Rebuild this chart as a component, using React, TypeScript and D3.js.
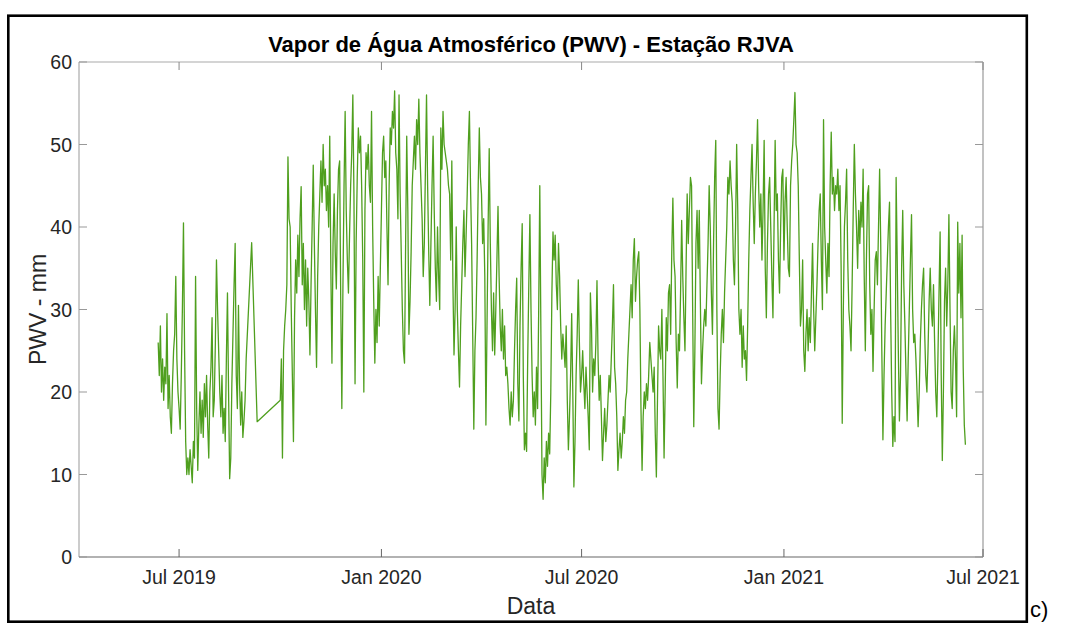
import React from "react";
import * as d3 from "d3";

// ---- data ----
const titleText = "Vapor de Água Atmosférico (PWV) - Estação RJVA";
const yLabel = "PWV - mm";
const xLabel = "Data";
const panelTag = "c)";

const xTickDates = ["2019-07-01", "2020-01-01", "2020-07-01", "2021-01-01", "2021-07-01"];
const yTickValues = [0, 10, 20, 30, 40, 50, 60];

// daily PWV (mm) from 2019-06-12
const segAStart = "2019-06-12";
const segAValues = [
  26, 22, 28, 20, 24, 19, 23, 21, 29.5, 18,
  22, 17, 15, 21, 25, 27, 34, 24, 20, 18,
  15.5, 22, 30, 40.5, 25, 14, 10, 12, 10, 13,
  11, 9, 14, 12, 34, 18, 10.5, 16, 20, 15,
  19, 14.5, 21, 17, 22, 16, 12, 20, 23, 29,
  17, 19, 26, 36, 30, 25, 20, 17, 22, 15,
  18, 14, 24, 32, 20, 9.5, 12, 21, 27, 33,
  38, 22, 18, 30.5, 21, 16, 20, 14.5, 16.5, 19,
  24,
];

// isolated observations inside the data gap
const gapDates = ["2019-09-05", "2019-09-10"];
const gapValues = [38.1, 16.4];

// daily PWV (mm) from 2019-10-01
const segBStart = "2019-10-01";
const segBValues = [
  19, 24, 12, 25, 28, 30, 33, 48.5, 41, 40,
  30, 22, 14, 29, 36, 32, 39, 34, 41, 44.9,
  33, 38, 30, 36, 28, 35, 31, 24.5, 33, 40,
  47.5, 38, 30, 23, 34, 40, 44, 48, 43, 50,
  45, 47, 42, 45, 40, 51, 35, 23.5, 38, 44,
  37, 32.5, 42, 47, 48, 31, 18, 33, 45, 54,
  42, 36, 32, 39, 45, 49, 56, 44, 21, 38,
  46, 52, 49, 51, 45, 36, 20, 42, 49, 47,
  50, 45, 43, 54, 40, 31, 23.5, 30, 26, 34,
  28, 35, 42, 49, 51, 46, 48, 40, 33, 45,
  52, 50, 54, 52, 56.5, 49, 47, 41, 56, 44,
  37, 30, 25, 23.5, 38, 51, 42, 27, 31, 37,
  45, 48, 51, 47, 53, 50, 55.5, 49, 45, 41,
  34, 38, 47, 56, 45, 37, 30.5, 38, 45, 51,
  42, 35, 31, 40, 34, 30, 52, 47, 54, 50,
  49, 48, 47, 45, 44, 36, 48, 33, 24.5, 30,
  40, 30, 25, 20.6, 28, 33, 38, 42, 34, 39,
  44, 50, 54, 45, 38, 27, 15.5, 25, 29, 36,
  45, 52, 46, 44, 38, 41, 34, 16, 28, 40,
  49.5, 38, 30, 25, 32, 24.5, 30, 36, 42.5, 34,
  28, 25, 30, 24, 28, 22, 23, 21, 18, 16,
  20, 17, 19, 25, 30, 33.8, 21, 16.5, 28, 35,
  40.4, 22, 13, 15, 12.8, 24, 33, 41.5, 30, 22,
  17, 20, 16, 23, 18, 30, 45, 27, 10, 7,
  12, 9, 14, 11, 15, 12.5, 20, 32, 39.4, 36,
  39, 33, 30, 38, 34, 28, 24, 27, 25, 23,
  28, 19, 13, 17, 22, 29.5, 20, 8.5, 14, 22,
  27, 33.6, 26, 20, 22, 25, 21, 18, 23, 20,
  17, 13, 32, 28, 20, 24, 22, 26, 33.5, 24,
  19, 22, 17, 11.7, 15, 18, 14, 16, 19, 22,
  20, 24, 28, 33, 23, 21, 17, 10.5, 13, 15,
  12, 14, 17, 15, 19, 20, 24, 27, 30, 33,
  29, 36, 38.6, 31, 34, 36, 37, 30, 18, 10.5,
  17, 20, 18, 21, 19, 22, 26, 24, 22, 20,
  23, 15, 9.7, 19, 28, 25, 24, 30, 22, 12,
  20, 29, 25, 32, 33, 27, 37, 43.5, 36, 34,
  26, 20.5, 27, 25, 32, 40.8, 34, 29, 25, 35,
  44, 38, 42, 46, 45, 30, 15.8, 25, 38, 42,
  35, 42, 31, 21, 25, 28, 30, 28, 33, 38,
  45, 40, 32, 27, 38, 46, 50.5, 30, 18, 15.5,
  22, 27, 30, 26, 32, 36, 40, 46, 44, 48,
  45, 43, 36, 33, 40, 50, 42, 30, 27, 30,
  23, 28, 24, 25, 21.4, 28, 36, 42, 46, 50,
  43, 38, 44, 48, 53, 45, 40, 44, 36, 42,
  50.5, 35, 29, 38, 44, 46, 40, 34, 29, 40,
  50.5, 42, 44, 36, 32, 40, 46, 47, 36, 43,
  46, 40, 35, 34, 45, 48, 50, 53, 56.3, 50,
  49, 45, 36, 28, 30, 36, 25, 22.5, 27, 30,
  25, 29, 26, 32, 38, 30, 25, 29, 33, 38,
  42, 44, 36, 30, 53, 40, 36, 32, 38, 34,
  45, 51.5, 44, 46, 42, 45, 44, 47, 42, 45,
  35, 16.2, 30, 40, 43, 47, 36, 30, 28, 25,
  33, 42, 50, 44, 40, 35, 42, 38, 43, 40,
  47, 34, 25, 36, 44, 45, 33, 27, 30, 22.5,
  30, 36, 37, 33, 40, 47, 38, 25, 14.2, 22,
  28, 32, 36, 40, 43, 30, 20, 13.4, 17, 14,
  46, 36, 25, 16.5, 22, 35, 42, 33, 28, 22,
  16.5, 24, 30, 36, 41.5, 30, 26, 27, 24, 20,
  15.8, 20, 26, 30, 33, 35, 27, 22, 20, 25,
  31, 35, 30, 28, 33, 26, 20, 17, 24, 32,
  39.4, 22, 11.7, 20, 31, 35, 28, 33, 41.5, 30,
  20, 18, 25, 28, 24, 17, 40.6, 32, 38, 29,
  39, 23, 16, 13.6,
];

const xDomain = ["2019-04-01", "2021-07-01"];
const yDomain = [0, 60];

// ---- helpers ----
const parse = d3.timeParse("%Y-%m-%d");
type Pt = { date: Date; v: number };

function dailySeries(start: string, values: number[]): Pt[] {
  const s = parse(start) as Date;
  return values.map((v, i) => ({ date: d3.timeDay.offset(s, i), v }));
}

const series: Pt[] = [
  ...dailySeries(segAStart, segAValues),
  ...gapDates.map((d, i) => ({ date: parse(d) as Date, v: gapValues[i] })),
  ...dailySeries(segBStart, segBValues),
];

const FONT = "'Liberation Sans', Arial, Helvetica, sans-serif";

export default function App() {
  const W = 1078;
  const H = 624;
  const left = 79;
  const right = 983;
  const top = 62;
  const bottom = 557;
  const tick = 8;

  const x = d3
    .scaleTime()
    .domain(xDomain.map((d) => parse(d) as Date))
    .range([left, right]);
  const y = d3.scaleLinear().domain(yDomain).range([bottom, top]);

  const line = d3
    .line<Pt>()
    .x((d) => x(d.date))
    .y((d) => y(d.v));

  const fmt = d3.timeFormat("%b %Y");
  const xTicks = xTickDates.map((d) => parse(d) as Date);
  const cx = (left + right) / 2;
  const cy = (top + bottom) / 2;

  return (
    <svg
      width={W}
      height={H}
      viewBox={`0 0 ${W} ${H}`}
      style={{ position: "absolute", left: 0, top: 0, display: "block", background: "#fff" }}
      fontFamily={FONT}
    >
      <rect x={0} y={0} width={W} height={H} fill="#fff" />
      {/* outer frame */}
      <rect x={8.3} y={15.7} width={1018.5} height={606} fill="none" stroke="#000" strokeWidth={2.6} />

      {/* data line */}
      <path d={line(series) || ""} fill="none" stroke="#4f9f1e" strokeWidth={1.3} strokeLinejoin="round" />

      {/* axes box */}
      <line x1={left} x2={right} y1={top} y2={top} stroke="#aaa" strokeWidth={1.2} />
      <line x1={right} x2={right} y1={top} y2={bottom} stroke="#999" strokeWidth={1.2} />
      <line x1={left} x2={left} y1={top} y2={bottom} stroke="#aaa" strokeWidth={1.2} />
      <line x1={left} x2={right} y1={bottom} y2={bottom} stroke="#666" strokeWidth={1.2} />

      {/* x ticks */}
      {xTicks.map((t, i) => (
        <g key={"xt" + i}>
          <line x1={x(t)} x2={x(t)} y1={bottom} y2={bottom - tick} stroke="#666" strokeWidth={1} />
          <line x1={x(t)} x2={x(t)} y1={top} y2={top + tick} stroke="#888" strokeWidth={1} />
          <text x={x(t)} y={584} textAnchor="middle" fontSize={19.5} fill="#262626">
            {fmt(t)}
          </text>
        </g>
      ))}

      {/* y ticks */}
      {yTickValues.map((v, i) => (
        <g key={"yt" + i}>
          <line x1={left} x2={left + tick} y1={y(v)} y2={y(v)} stroke="#999" strokeWidth={1} />
          <line x1={right} x2={right - tick} y1={y(v)} y2={y(v)} stroke="#999" strokeWidth={1} />
          <text x={72} y={y(v)} dy="0.36em" textAnchor="end" fontSize={19.5} fill="#262626">
            {v}
          </text>
        </g>
      ))}

      {/* title */}
      <text x={cx} y={52} textAnchor="middle" fontSize={22} fontWeight="bold" fill="#000">
        {titleText}
      </text>

      {/* axis labels */}
      <text x={cx} y={614} textAnchor="middle" fontSize={23} fill="#262626">
        {xLabel}
      </text>
      <text
        transform={`translate(46,${cy}) rotate(-90)`}
        textAnchor="middle"
        fontSize={23}
        fill="#262626"
      >
        {yLabel}
      </text>

      {/* panel tag */}
      <text x={1030} y={617} fontSize={22} fill="#000">
        {panelTag}
      </text>
    </svg>
  );
}
